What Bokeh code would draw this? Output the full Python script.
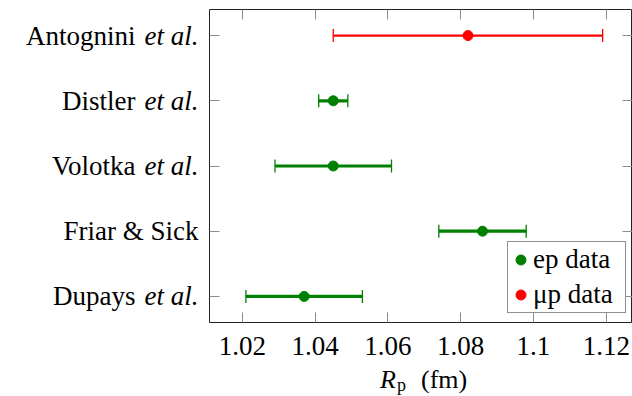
from bokeh.plotting import figure
from bokeh.layouts import row, column
from bokeh.models import (Range1d, LinearAxis, FixedTicker, Whisker, TeeHead,
                          ColumnDataSource, Legend, LegendItem)
from bokeh.core.properties import value
from bokeh.embed import file_html
from bokeh.resources import INLINE

# ---- data ----
names = ["Dupays", "Friar & Sick", "Volotka", "Distler", "Antognini"]
etal = [True, False, True, True, True]
rp = [1.037, 1.086, 1.045, 1.045, 1.082]
err = [0.016, 0.012, 0.016, 0.004, 0.037]
kind = ["ep", "ep", "ep", "ep", "mup"]
rows = [1, 2, 3, 4, 5]
x_ticks = [1.02, 1.04, 1.06, 1.08, 1.10, 1.12]
x_tick_labels = ["1.02", "1.04", "1.06", "1.08", "1.1", "1.12"]
legend_labels = {"ep": "ep data", "mup": "μp data"}
colors = {"ep": "#008000", "mup": "#ff0000"}
bar_width = {"ep": 3.2, "mup": 2.2}

FONT = "Liberation Serif, DejaVu Serif, serif"
FS = "27px"
TICK_COLOR = "#8c8c8c"
H = 366          # height of the upper row
BOTTOM = 44      # space under the frame in the upper row
TOP = 9

x_range = Range1d(1.011, 1.1272)
y_range = Range1d(0.6, 5.4)

def bare(fig):
    fig.grid.visible = False
    fig.outline_line_color = None
    fig.background_fill_color = "white"
    fig.border_fill_color = "white"

# ---- main plot ----
p = figure(width=423, height=H, x_range=x_range, y_range=y_range,
           output_backend="svg", toolbar_location=None,
           min_border_left=0, min_border_right=0, min_border_top=TOP, min_border_bottom=BOTTOM)
p.grid.visible = False
p.outline_line_color = "#222222"
p.outline_line_width = 1
p.background_fill_color = "white"
p.border_fill_color = "white"

xa = p.xaxis[0]
xa.ticker = FixedTicker(ticks=x_ticks)
xa.major_label_overrides = {t: l for t, l in zip(x_ticks, x_tick_labels)}
xa.major_label_text_font = FONT
xa.major_label_text_font_size = FS
xa.major_label_text_color = "black"
xa.major_label_standoff = 14
xa.axis_line_color = None
xa.major_tick_in = 10
xa.major_tick_out = 0
xa.major_tick_line_color = TICK_COLOR
xa.minor_tick_line_color = None

ya = p.yaxis[0]
top = LinearAxis()
right = LinearAxis()
p.add_layout(top, "above")
p.add_layout(right, "right")
for ax, ticks in ((ya, rows), (top, x_ticks), (right, rows)):
    ax.ticker = FixedTicker(ticks=ticks)
    ax.major_label_overrides = {t: "" for t in ticks}
    ax.major_label_text_font_size = "0px"
    ax.major_label_standoff = 0
    ax.axis_line_color = None
    ax.major_tick_in = 10
    ax.major_tick_out = 0
    ax.major_tick_line_color = TICK_COLOR
    ax.minor_tick_line_color = None

scatters = {}
for k in ["ep", "mup"]:
    idx = [i for i in range(len(rp)) if kind[i] == k]
    src = ColumnDataSource(dict(
        y=[rows[i] for i in idx],
        x=[rp[i] for i in idx],
        lo=[rp[i] - err[i] for i in idx],
        hi=[rp[i] + err[i] for i in idx],
    ))
    c = colors[k]
    w = Whisker(source=src, base="y", lower="lo", upper="hi", dimension="width",
                line_color=c, line_width=bar_width[k],
                lower_head=TeeHead(size=13, line_color=c, line_width=1.3),
                upper_head=TeeHead(size=13, line_color=c, line_width=1.3))
    p.add_layout(w)
    scatters[k] = p.scatter("x", "y", source=src, size=10, color=c)

legend = Legend(items=[LegendItem(label=legend_labels["ep"], renderers=[scatters["ep"]]),
                       LegendItem(label=legend_labels["mup"], renderers=[scatters["mup"]])],
                location=(298, 9), padding=0, spacing=0, margin=0,
                glyph_width=25, glyph_height=35, label_height=35, label_width=92,
                label_standoff=0,
                label_text_font=FONT, label_text_font_size=FS, label_text_color="black",
                border_line_color="#222222", border_line_width=1,
                background_fill_alpha=1.0)
p.add_layout(legend)

# ---- row labels (left) ----
lab = figure(width=209, height=H, x_range=Range1d(0, 1), y_range=y_range,
             x_axis_type=None, y_axis_type=None,
             output_backend="svg", toolbar_location=None,
             min_border_left=0, min_border_right=0, min_border_top=TOP, min_border_bottom=BOTTOM)
bare(lab)
roman_src = ColumnDataSource(dict(
    x=[1] * len(names), y=rows, text=names,
    off=[-74 if e else -11 for e in etal]))
lab.text(x="x", y="y", text="text", x_offset="off", source=roman_src,
         text_font=value(FONT), text_font_size=FS, text_color="black",
         text_align="right", text_baseline="middle")
it_rows = [rows[i] for i in range(len(names)) if etal[i]]
ital_src = ColumnDataSource(dict(x=[1] * len(it_rows), y=it_rows,
                                 text=["et al."] * len(it_rows)))
lab.text(x="x", y="y", text="text", x_offset=-11, source=ital_src,
         text_font=value(FONT), text_font_style="italic", text_font_size=FS,
         text_color="black", text_align="right", text_baseline="middle")

# ---- x axis title (bottom) ----
xl = figure(width=632, height=396 - H, x_range=x_range, y_range=Range1d(0, 1),
            x_axis_type=None, y_axis_type=None,
            output_backend="svg", toolbar_location=None,
            min_border_left=209, min_border_right=0, min_border_top=0, min_border_bottom=0)
bare(xl)
xmid = (x_range.start + x_range.end) / 2
xl.text(x=[xmid], y=[0.5], text=["R"], x_offset=-41, y_offset=-2,
        text_font=value(FONT), text_font_style="italic", text_font_size="26px",
        text_color="black", text_align="left", text_baseline="middle")
xl.text(x=[xmid], y=[0.5], text=["p"], x_offset=-24, y_offset=3,
        text_font=value(FONT), text_font_size="18px",
        text_color="black", text_align="left", text_baseline="middle")
xl.text(x=[xmid], y=[0.5], text=["(fm)"], x_offset=0, y_offset=-2,
        text_font=value(FONT), text_font_size="26px",
        text_color="black", text_align="left", text_baseline="middle")

layout = column(row(lab, p, spacing=0), xl, spacing=0)
open("out.html", "w").write(file_html(layout, INLINE))
